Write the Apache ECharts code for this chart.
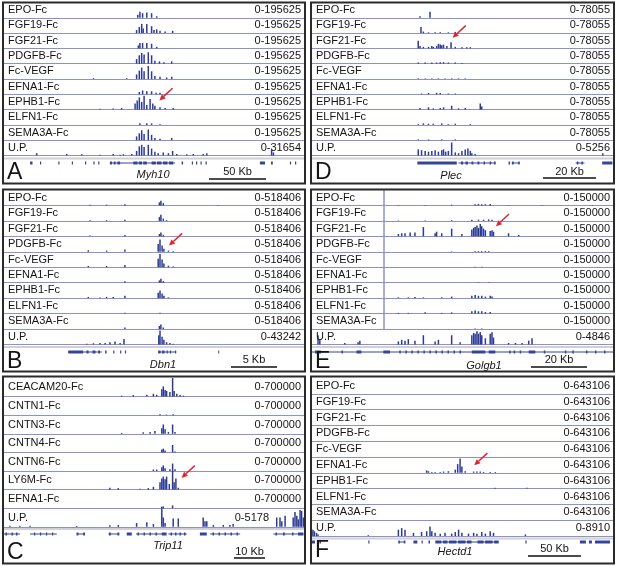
<!DOCTYPE html>
<html>
<head>
<meta charset="utf-8">
<script src="https://cdn.jsdelivr.net/npm/echarts@6/dist/echarts.min.js"></script>
<style>
html, body { margin: 0; padding: 0; background: #fff; }
#chart { width: 617px; height: 566px; }
</style>
</head>
<body>
<div id="chart"></div>
<script>
// Positions along each window are in % of the window (0-100), signal in % of the track range.

// ---- Panel A: Myh10 ----
const panelALabels = ['EPO-Fc', 'FGF19-Fc', 'FGF21-Fc', 'PDGFB-Fc', 'Fc-VEGF', 'EFNA1-Fc', 'EPHB1-Fc', 'ELFN1-Fc', 'SEMA3A-Fc', 'U.P.']
const panelARanges = ['0-195625', '0-195625', '0-195625', '0-195625', '0-195625', '0-195625', '0-195625', '0-195625', '0-195625', '0-31654']
const panelASignal = [
    [[44.6,20],[45.3,40],[46.2,30],[47.6,35],[49.2,30],[50.9,10]],
    [[44.2,20],[45.1,40],[45.9,60],[46.4,30],[47.6,60],[49.2,45],[50.0,20],[50.9,25],[52.0,15],[53.7,10],[56.2,15]],
    [[44.8,20],[45.3,35],[46.2,35],[47.6,35],[49.2,30],[50.9,10]],
    [[44.2,30],[45.1,55],[45.9,70],[46.7,60],[48.1,75],[49.2,55],[50.3,20],[51.8,15],[53.3,10],[55.9,15]],
    [[29.8,5],[40.9,5],[44.2,30],[45.1,55],[45.9,75],[46.7,50],[48.1,85],[49.2,50],[50.3,20],[52.0,15],[54.2,10],[55.9,15]],
    [[45.1,15],[46.2,25],[47.6,20],[49.2,20],[50.7,10],[52.0,10]],
    [[32.0,5],[36.4,8],[39.2,10],[43.7,40],[44.4,60],[45.1,80],[45.9,50],[46.7,90],[47.6,30],[48.7,70],[49.6,40],[50.3,25],[52.0,15],[53.7,10],[56.4,10]],
    [[45.3,10],[47.6,10],[49.2,10],[52.0,5]],
    [[44.2,25],[45.1,45],[45.9,65],[46.7,40],[48.1,70],[49.2,35],[50.3,15],[52.0,10],[55.9,15]],
    [[10.9,15],[20.9,10],[25.9,8],[32.0,5],[36.4,10],[38.7,5],[39.8,8],[42.6,10],[44.2,30],[45.1,60],[45.9,70],[46.7,55],[48.1,70],[49.2,45],[50.3,25],[51.4,15],[53.1,20],[54.8,15],[56.2,30],[57.6,10],[60.9,8],[63.1,10],[66.4,10],[67.6,15],[89.2,35],[89.8,20]]
]
// gene features: [start, end, kind] kind 1 = exon block, 0 = connecting line
const panelAGene = [[8.7,9.5,1],[12.0,12.4,1],[18.1,18.5,1],[22.6,23.0,1],[27.0,27.4,1],[29.8,30.2,1],[31.4,31.8,1],
    [35.3,57.0,0],[35.3,36.0,1],[36.6,37.2,1],[37.8,38.7,1],[43.1,44.5,1],[44.9,46.0,1],[46.4,47.6,1],[49.2,50.6,1],[51.0,52.5,1],[53.0,54.5,1],[55.0,56.4,1],
    [59.2,59.7,1],[62.6,63.0,1],[64.0,64.4,1],[65.5,65.9,1],[67.2,67.6,1],[85.3,87.0,1],[89.0,89.6,1],[95.3,95.7,1],[97.0,97.4,1]]

// ---- Panel B: Dbn1 ----
const panelBLabels = ['EPO-Fc', 'FGF19-Fc', 'FGF21-Fc', 'PDGFB-Fc', 'Fc-VEGF', 'EFNA1-Fc', 'EPHB1-Fc', 'ELFN1-Fc', 'SEMA3A-Fc', 'U.P.']
const panelBRanges = ['0-518406', '0-518406', '0-518406', '0-518406', '0-518406', '0-518406', '0-518406', '0-518406', '0-518406', '0-43242']
const panelBSignal = [
    [[28.7,5],[34.2,5],[40.3,8],[51.8,20],[52.3,30],[53.1,15],[71.4,3]],
    [[28.7,5],[34.2,5],[40.3,8],[51.8,25],[52.3,40],[53.1,15],[54.2,5]],
    [[28.7,5],[40.3,8],[51.8,15],[52.3,25],[53.1,10]],
    [[28.1,10],[34.2,8],[40.3,15],[51.4,50],[52.0,80],[52.7,40],[53.3,20],[54.8,8],[56.4,5]],
    [[28.1,8],[34.2,8],[40.3,15],[51.4,55],[52.0,85],[52.7,50],[53.3,25],[54.8,10],[56.4,5]],
    [[40.3,10],[51.8,15],[52.3,25],[53.1,10]],
    [[28.1,8],[32.0,5],[34.2,8],[36.4,8],[40.3,15],[51.4,35],[52.0,50],[52.7,30],[53.3,15],[54.8,5]],
    [[40.3,5],[52.0,5]],
    [[40.3,10],[51.8,20],[52.3,30],[53.1,10]],
    [[27.6,5],[29.8,8],[32.0,10],[33.7,10],[35.3,15],[37.0,20],[38.7,10],[40.0,35],[51.6,60],[52.0,90],[52.7,50],[53.3,30],[54.2,15],[55.3,10],[56.4,5]]
]
const panelBGene = [[21.4,26.4,1],[26.4,32.6,0],[27.5,28.2,1],[29.5,30.5,1],[31.4,32.0,1],[33.7,34.2,1],[36.4,36.8,1],[38.7,39.1,1],[40.3,40.7,1],
    [51.4,57.4,0],[51.4,52.2,1],[52.7,53.5,1],[54.2,54.6,1],[55.3,55.7,1],[57.0,57.4,1],[71.4,71.7,1]]

// ---- Panel C: Trip11 ----
const panelCLabels = ['CEACAM20-Fc', 'CNTN1-Fc', 'CNTN3-Fc', 'CNTN4-Fc', 'CNTN6-Fc', 'LY6M-Fc', 'EFNA1-Fc', 'U.P.']
const panelCRanges = ['0-700000', '0-700000', '0-700000', '0-700000', '0-700000', '0-700000', '0-700000', '0-5178']
const panelCSignal = [
    [[39.2,5],[43.1,8],[47.6,10],[49.8,15],[50.9,10],[52.6,40],[53.1,55],[53.7,35],[54.2,30],[55.3,25],[56.2,100],[56.7,30],[57.6,15],[58.7,8],[59.8,5]],
    [[52.0,5],[54.2,3],[56.4,5]],
    [[39.2,5],[46.4,8],[48.7,10],[50.3,15],[52.6,30],[53.1,50],[53.7,25],[54.8,10],[56.2,50],[57.0,10]],
    [[52.6,15],[53.1,20],[53.7,10],[56.2,40],[57.0,5]],
    [[49.8,8],[50.9,8],[52.6,20],[53.1,30],[53.7,15],[55.3,10],[56.2,40],[57.0,10]],
    [[35.3,10],[38.1,8],[45.3,5],[48.1,8],[49.8,15],[52.0,40],[52.6,60],[53.1,70],[53.7,55],[54.2,70],[55.1,30],[56.2,100],[56.7,40],[57.3,60],[58.1,10]],
    [[52.6,8],[53.1,10],[56.2,15]],
    [[2.0,5],[5.3,5],[8.7,5],[24.2,5],[35.3,8],[38.1,10],[44.2,20],[47.6,25],[49.8,15],[52.6,100],[53.1,50],[53.7,20],[56.4,45],[58.1,45],[66.4,50],[67.0,30],[67.6,30],[69.8,10],[73.1,10],[75.3,10],[76.4,15],
     [90.9,50],[92.0,50],[92.6,30],[93.7,60],[96.4,50],[97.0,80],[97.6,60],[98.1,40],[98.7,90],[99.2,85],[99.8,50]]
]
const panelCGene = [[0,5.3,0],[0.5,1,1],[2.5,3,1],[4,4.5,1],[8.7,17.6,0],[10,10.4,1],[12,12.4,1],[14,14.4,1],[16,16.4,1],
    [24.2,27,0],[24.2,24.8,1],[26.4,27,1],[34.8,38.5,0],[35,35.6,1],[37.8,38.4,1],[40.9,42.6,1],
    [44,53,0],[44.5,45,1],[46.5,47,1],[48.5,49,1],[50.5,51,1],[52.6,54.2,1],[54.8,60.9,0],[55.5,56,1],[57,57.5,1],[58.5,59,1],[60,60.5,1],
    [65.3,67.6,1],[68.7,78.7,0],[69.5,70,1],[71.5,72,1],[73.5,74,1],[75.5,76,1],[77.5,78,1],
    [89.8,99.8,0],[90.5,91,1],[93,93.6,1],[96,96.5,1],[98,99.8,1]]

// ---- Panel D: Plec ----
const panelDLabels = ['EPO-Fc', 'FGF19-Fc', 'FGF21-Fc', 'PDGFB-Fc', 'Fc-VEGF', 'EFNA1-Fc', 'EPHB1-Fc', 'ELFN1-Fc', 'SEMA3A-Fc', 'U.P.']
const panelDRanges = ['0-78055', '0-78055', '0-78055', '0-78055', '0-78055', '0-78055', '0-78055', '0-78055', '0-78055', '0-5256']
const panelDSignal = [
    [[35.9,10],[39.2,40]],
    [[36.2,40],[37.0,10],[38.7,5],[40.9,5],[42.6,5],[45.3,5],[47.6,8]],
    [[35.3,50],[35.9,15],[37.0,10],[38.7,10],[39.8,15],[40.3,10],[41.4,15],[42.0,30],[42.6,25],[43.1,20],[43.7,25],[44.8,15],[46.2,40],[47.6,10],[49.8,8],[51.4,8],[52.6,8]],
    [[35.3,8],[37.6,8],[39.8,8],[41.4,8],[42.6,10],[43.7,10],[45.3,8],[47.6,8],[49.8,5]],
    [[35.3,4],[37.6,4],[39.8,4],[42.0,4],[44.2,4],[46.4,4],[48.7,4],[50.9,4]],
    [[36.4,5],[38.7,8],[41.4,10],[42.6,8],[45.3,5],[47.6,5]],
    [[35.9,10],[38.7,15],[40.3,8],[42.6,10],[43.7,15],[46.4,25],[48.7,8],[50.9,10],[55.9,40],[56.4,20]],
    [[35.3,5],[37.0,10],[38.7,8],[40.3,8],[43.1,10],[45.3,5],[47.6,8],[52.6,5]],
    [[35.3,5],[38.7,5],[43.1,5],[47.6,5]],
    [[35.3,40],[36.4,35],[37.6,30],[38.7,25],[39.8,30],[40.9,35],[42.0,25],[43.1,35],[43.7,40],[44.4,25],[45.3,30],[46.4,85],[47.6,20],[48.7,15],[49.8,30],[50.9,40],[51.8,45],[52.6,30],[53.1,15],[54.2,10],[96.6,15]]
]
const panelDGene = [[35.0,48.1,1],[48.7,61,0],[49.5,50.2,1],[51,51.8,1],[53,53.6,1],[55,55.6,1],[57,57.5,1],[59,59.5,1],[60.5,61,1],
    [65.3,65.8,1],[66.4,69,0],[66.4,67,1],[68.5,69,1],[87.6,90.5,0],[88,88.5,1],[89.5,90,1],[96.4,99.8,1]]

// ---- Panel E: Golgb1 ----
const panelELabels = ['EPO-Fc', 'FGF19-Fc', 'FGF21-Fc', 'PDGFB-Fc', 'Fc-VEGF', 'EFNA1-Fc', 'EPHB1-Fc', 'ELFN1-Fc', 'SEMA3A-Fc', 'U.P.']
const panelERanges = ['0-150000', '0-150000', '0-150000', '0-150000', '0-150000', '0-150000', '0-150000', '0-150000', '0-150000', '0-4846']
const panelEMarker = 24
const panelESignal = [
    [[28.7,3],[37.6,3],[46.4,5],[54.2,8],[55.3,10],[56.4,8],[57.6,8],[59.2,10],[65.3,3],[76.4,3],[93.1,3]],
    [[28.7,3],[37.6,3],[46.4,5],[53.1,8],[55.3,8],[57.0,8],[58.7,10],[59.8,8]],
    [[28.7,15],[29.8,20],[30.9,20],[32.6,25],[34.2,25],[37.0,60],[40.9,20],[41.4,30],[43.1,20],[46.4,50],[49.8,15],[53.1,45],[53.7,55],[54.2,60],[54.8,70],[55.3,55],[55.9,80],[56.4,65],[57.0,50],[57.6,40],[59.2,35],[59.8,40],[60.3,30],[65.3,20],[68.7,8]],
    [[46.4,3],[54.2,5],[55.3,5],[56.4,5],[57.6,5],[58.7,5]],
    [[54.2,3],[56.4,3]],
    [[55.3,3],[58.7,3]],
    [[28.7,5],[32.0,5],[34.2,8],[37.0,5],[43.1,5],[46.4,10],[53.1,15],[54.2,20],[55.3,15],[56.4,15],[57.6,10],[59.2,15],[59.8,10]],
    [[28.7,5],[32.0,5],[37.6,8],[43.1,5],[46.4,8],[53.1,15],[54.2,20],[55.3,15],[56.4,15],[57.6,10],[59.2,10]],
    [[54.2,3],[56.4,3]],
    [[2.0,60],[2.6,30],[10.9,10],[15.3,15],[15.9,25],[28.7,20],[29.8,30],[30.9,25],[32.0,35],[34.2,25],[37.0,60],[40.9,20],[42.0,30],[46.4,60],[49.2,15],[53.1,60],[53.7,75],[54.2,70],[54.8,85],[55.3,70],[55.9,80],[56.4,60],[57.6,40],[59.2,70],[59.8,80],[60.3,45],[65.3,10],[67.6,10],[69.8,10],[72.0,25],[73.1,40]]
]
const panelEGene = [[0,100,0],[1,3,1],[9.8,10.3,1],[14.8,16.4,1],[23.7,25.9,1],[29,29.5,1],[31,31.5,1],[33,33.5,1],[35,35.5,1],[37,37.5,1],[39,39.5,1],[41,41.5,1],[43,43.5,1],[45,45.5,1],[47,47.5,1],[49,49.5,1],
    [53.1,57.6,1],[58.7,60.9,1],[65.5,66,1],[67,67.5,1],[69,69.5,1],[72,74.2,1],[77,77.5,1],[84,84.5,1],[86.5,87,1],[91,91.5,1],[94,94.5,1],[97,97.5,1]]

// ---- Panel F: Hectd1 ----
const panelFLabels = ['EPO-Fc', 'FGF19-Fc', 'FGF21-Fc', 'PDGFB-Fc', 'Fc-VEGF', 'EFNA1-Fc', 'EPHB1-Fc', 'ELFN1-Fc', 'SEMA3A-Fc', 'U.P.']
const panelFRanges = ['0-643106', '0-643106', '0-643106', '0-643106', '0-643106', '0-643106', '0-643106', '0-643106', '0-643106', '0-8910']
const panelFSignal = [
    [],
    [],
    [],
    [],
    [],
    [[38.1,15],[38.7,10],[39.8,5],[40.9,5],[42.6,5],[43.7,8],[45.3,10],[47.6,20],[48.4,55],[49.2,90],[49.8,40],[50.9,10],[53.7,8],[54.8,8],[55.9,8],[57.0,5],[59.2,5],[60.9,5]],
    [[60.9,5],[71.4,5]],
    [],
    [],
    [[0.3,40],[0.8,30],[1.5,20],[2.0,10],[18.7,5],[28.7,40],[29.8,50],[30.9,40],[33.7,20],[36.4,25],[38.1,30],[39.2,60],[39.8,30],[40.9,20],[42.6,15],[44.2,20],[46.4,15],[47.6,25],[48.7,40],[49.8,20],[52.0,15],[53.7,20],[54.8,15],[56.4,25],[57.6,15],[59.2,30],[60.3,20],[70.9,10]]
]
const panelFGene = [[0,1,1],[2.5,3,1],[18.7,19.1,1],[28.7,31,0],[28.7,29.2,1],[30.5,31,1],[33.7,35,1],[36.4,36.8,1],[38.7,39.2,1],
    [41,62,0],[41,43,1],[43.5,45,1],[45.5,48,1],[48.5,51,1],[51.5,53,1],[55,57,1],[57.5,60,1],[60.5,62,1],[70.9,71.3,1],[89,91,1],[92,93,1],[94,99,1]]

// arrows: [panel, track index, position, signal]
const arrowTips = [['A', 6, 51.8, 60], ['B', 3, 55, 40], ['C', 5, 59.2, 63], ['D', 2, 46.7, 69], ['E', 2, 61.1, 65], ['F', 5, 53.9, 47]]

const BAR = '#2d3b96'
const LINE = '#8c92c9'
const GENE = '#34449c'
const FONT = '"Liberation Sans", Arial, sans-serif'

const panels = {
    A: { labels: panelALabels, ranges: panelARanges, signal: panelASignal, gene: panelAGene, name: 'Myh10', scale: '50 Kb',
         box: [3, 2.5, 302, 181], trackTop: 2.5, trackH: 15.3, grayY: 158.5, geneY: 163, letterY: 173, nameX: 153, nameY: 175, scaleX: [209, 266], scaleTextY: 172, scaleLineY: 179 },
    B: { labels: panelBLabels, ranges: panelBRanges, signal: panelBSignal, gene: panelBGene, name: 'Dbn1', scale: '5 Kb',
         box: [3, 189.5, 302, 182], trackTop: 190, trackH: 15.45, grayY: 347, geneY: 352, letterY: 362, nameX: 163, nameY: 365, scaleX: [231, 277], scaleTextY: 360, scaleLineY: 367 },
    C: { labels: panelCLabels, ranges: panelCRanges, signal: panelCSignal, gene: panelCGene, name: 'Trip11', scale: '10 Kb',
         box: [3, 376.5, 302, 187], trackTop: 378, trackH: 18.6, grayY: 529, geneY: 534, letterY: 553, nameX: 168, nameY: 546, scaleX: [234, 265], scaleTextY: 552, scaleLineY: 558, upRangeRight: 269 },
    D: { labels: panelDLabels, ranges: panelDRanges, signal: panelDSignal, gene: panelDGene, name: 'Plec', scale: '20 Kb',
         box: [311, 2.5, 303, 181], trackTop: 2.5, trackH: 15.3, grayY: 158.5, geneY: 163, letterY: 173, nameX: 451, nameY: 176, scaleX: [543, 596], scaleTextY: 172, scaleLineY: 178 },
    E: { labels: panelELabels, ranges: panelERanges, signal: panelESignal, gene: panelEGene, name: 'Golgb1', scale: '20 Kb', marker: panelEMarker,
         box: [311, 189.5, 303, 182], trackTop: 190, trackH: 15.45, grayY: 347, geneY: 352, letterY: 362, nameX: 484, nameY: 366, scaleX: [531, 587], scaleTextY: 360, scaleLineY: 367 },
    F: { labels: panelFLabels, ranges: panelFRanges, signal: panelFSignal, gene: panelFGene, name: 'Hectd1', scale: '50 Kb',
         box: [311, 376.5, 303, 187], trackTop: 378, trackH: 15.8, grayY: 538.5, geneY: 542, letterY: 551, nameX: 455, nameY: 552, scaleX: [528, 581], scaleTextY: 549, scaleLineY: 556 }
}

const grids = [], xAxes = [], yAxes = [], series = [], graphics = []
const trackGrid = {}

function text(x, y, str, font, align) {
    graphics.push({ type: 'text', x: x, y: y, z: 100, silent: true,
        style: { text: str, font: font, fill: '#141414', textAlign: align || 'left', textVerticalAlign: 'middle' } })
}

function addAxes(left, top, width, height, lineShow) {
    const gi = grids.length
    grids.push({ left: left, top: top, width: width, height: height, containLabel: false, outerBoundsMode: 'none' })
    xAxes.push({ gridIndex: gi, type: 'value', min: 0, max: 100,
        axisLine: { show: lineShow, onZero: false, lineStyle: { color: LINE, width: 1 } },
        axisTick: { show: false }, axisLabel: { show: false }, splitLine: { show: false } })
    yAxes.push({ gridIndex: gi, type: 'value', min: 0, max: 100, show: false })
    return gi
}

Object.keys(panels).forEach(key => {
    const p = panels[key]
    const [bx, by, bw, bh] = p.box
    trackGrid[key] = []
    p.signal.forEach((pts, i) => {
        const top = p.trackTop + i * p.trackH
        const gi = addAxes(bx + 1, top, bw - 2, p.trackH, true)
        trackGrid[key].push(gi)
        const s = { type: 'bar', xAxisIndex: gi, yAxisIndex: gi, data: pts, barWidth: 1.5, silent: true,
            itemStyle: { color: BAR } }
        if (p.marker !== undefined && i < p.signal.length - 1) {
            s.markLine = { silent: true, symbol: 'none', label: { show: false },
                lineStyle: { color: LINE, width: 1.5, type: 'solid' }, data: [{ xAxis: p.marker }] }
        }
        series.push(s)
        const cy = top + p.trackH / 2
        text(bx + 5, cy, p.labels[i], '11px ' + FONT, 'left')
        const rx = (i === p.signal.length - 1 && p.upRangeRight) ? p.upRangeRight : bx + bw - 4
        text(rx, cy, p.ranges[i], '11px ' + FONT, 'right')
    })
    // separator above the gene track
    graphics.push({ type: 'rect', silent: true, z: 50, shape: { x: bx + 1, y: p.grayY - 1, width: bw - 2, height: 2 }, style: { fill: '#cfcfd4' } })
    // gene track
    const gg = addAxes(bx + 1, p.geneY - 3, bw - 2, 6, false)
    series.push({ type: 'custom', xAxisIndex: gg, yAxisIndex: gg, data: p.gene, silent: true,
        renderItem: (params, api) => {
            const s = api.coord([api.value(0), 50])
            const e = api.coord([api.value(1), 50])
            const h = api.value(2) ? 3 : 1
            return { type: 'rect', shape: { x: s[0], y: s[1] - h / 2, width: Math.max(1, e[0] - s[0]), height: h },
                style: { fill: GENE } }
        } })
    // bottom row
    text(bx + 4, p.letterY, key, '23px ' + FONT, 'left')
    text(p.nameX, p.nameY, p.name, 'italic 11px ' + FONT, 'center')
    text((p.scaleX[0] + p.scaleX[1]) / 2, p.scaleTextY, p.scale, '11px ' + FONT, 'center')
    graphics.push({ type: 'line', silent: true, z: 100, shape: { x1: p.scaleX[0], y1: p.scaleLineY, x2: p.scaleX[1], y2: p.scaleLineY },
        style: { stroke: '#111', lineWidth: 1.5 } })
    // frame
    graphics.push({ type: 'rect', silent: true, z: 120, shape: { x: bx, y: by, width: bw, height: bh },
        style: { fill: 'none', stroke: '#2a2a2a', lineWidth: 2 } })
})

const chart = echarts.init(document.getElementById('chart'), null, { renderer: 'canvas' })
chart.setOption({
    animation: false,
    grid: grids,
    xAxis: xAxes,
    yAxis: yAxes,
    series: series,
    graphic: graphics
})

// red arrows pointing at the highlighted peaks
const arrows = []
arrowTips.forEach(([key, track, pos, val]) => {
    const tip = chart.convertToPixel({ gridIndex: trackGrid[key][track] }, [pos, val])
    const d = [-0.73, 0.68]
    const len = 18, head = 6, half = 2.8
    const base = [tip[0] - d[0] * head, tip[1] - d[1] * head]
    const tail = [tip[0] - d[0] * len, tip[1] - d[1] * len]
    arrows.push({ type: 'line', silent: true, z: 130, shape: { x1: tail[0], y1: tail[1], x2: base[0], y2: base[1] },
        style: { stroke: '#e3232a', lineWidth: 1.5 } })
    arrows.push({ type: 'polygon', silent: true, z: 130,
        shape: { points: [tip, [base[0] - d[1] * half, base[1] + d[0] * half], [base[0] + d[1] * half, base[1] - d[0] * half]] },
        style: { fill: '#e3232a' } })
})
chart.setOption({ graphic: graphics.concat(arrows) })
</script>
</body>
</html>
